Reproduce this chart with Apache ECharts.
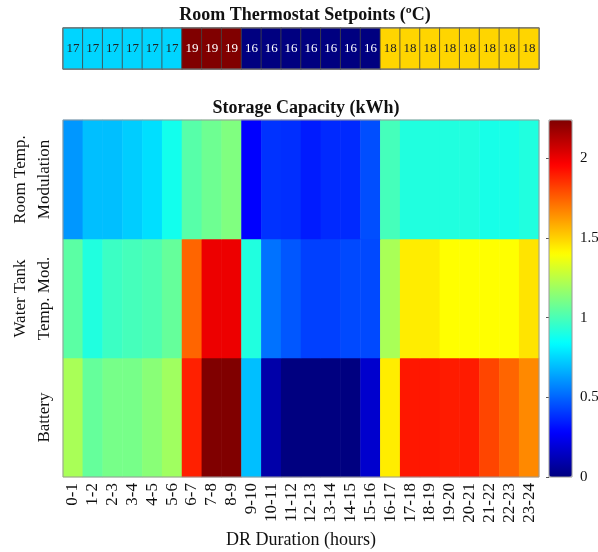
<!DOCTYPE html>
<html><head><meta charset="utf-8">
<script src="https://cdn.jsdelivr.net/npm/echarts@6/dist/echarts.min.js"></script>
<style>html,body{margin:0;padding:0;background:#fff}#c{width:598px;height:552px}</style>
</head><body><div id="c"></div>
<script>
const hours = ['0-1','1-2','2-3','3-4','4-5','5-6','6-7','7-8','8-9','9-10','10-11','11-12','12-13','13-14','14-15','15-16','16-17','17-18','18-19','19-20','20-21','21-22','22-23','23-24'];
const rowNames = ['Battery', 'Water Tank\nTemp. Mod.', 'Room Temp.\nModulation'];
const roomTempMod = [0.61,0.70,0.70,0.73,0.77,0.88,1.03,1.08,1.12,0.28,0.39,0.38,0.34,0.37,0.37,0.45,0.99,0.91,0.91,0.91,0.91,0.89,0.89,0.91];
const waterTankMod = [1.04,0.91,0.97,0.99,1.01,1.06,1.74,2.00,2.00,0.91,0.53,0.47,0.42,0.42,0.44,0.44,1.21,1.44,1.44,1.40,1.40,1.40,1.40,1.46];
const battery = [1.21,1.06,1.10,1.10,1.14,1.19,1.89,2.24,2.24,0.70,0.09,0.00,0.00,0.00,0.00,0.17,1.44,1.91,1.91,1.90,1.90,1.81,1.74,1.66];
const setpoints = [17,17,17,17,17,17,19,19,19,16,16,16,16,16,16,16,18,18,18,18,18,18,18,18];
const colorTicks = [0, 0.5, 1, 1.5, 2];
const capMin = 0, capMax = 2.24;

const jet = ['#000080','#0000ff','#0080ff','#00ffff','#80ff80','#ffff00','#ff8000','#ff0000','#800000'];
const serif = '"Liberation Serif", "Times New Roman", serif';

const rowsData = [battery, waterTankMod, roomTempMod];
const heatData = [];
rowsData.forEach((arr, r) => arr.forEach((v, c) => heatData.push([c, r, v])));
const spData = setpoints.map((v, i) => ({
  value: [i, 0, v],
  label: { color: (v === 16 || v === 19) ? '#ffffff' : '#222222' }
}));

const chart = echarts.init(document.getElementById('c'), null, { renderer: 'canvas' });
chart.setOption({
  animation: false,
  backgroundColor: '#ffffff',
  title: [
    { text: 'Room Thermostat Setpoints (ºC)', left: 300, textAlign: 'center', top: 1,
      textStyle: { fontFamily: serif, fontWeight: 'bold', fontSize: 18, color: '#111' } },
    { text: 'Storage Capacity (kWh)', left: 301, textAlign: 'center', top: 94,
      textStyle: { fontFamily: serif, fontWeight: 'bold', fontSize: 18, color: '#111' } }
  ],
  grid: [
    { left: 63, top: 120, width: 476, height: 357, outerBoundsMode: 'none', containLabel: false,
      show: true, borderColor: '#999', borderWidth: 1, backgroundColor: 'transparent', z: 5 },
    { left: 63, top: 28, width: 476, height: 41, outerBoundsMode: 'none', containLabel: false,
      show: true, borderColor: '#777', borderWidth: 1, backgroundColor: 'transparent', z: 5 },
    { left: 549, top: 120, width: 23, height: 357, outerBoundsMode: 'none', containLabel: false,
      show: true, borderColor: '#999', borderWidth: 1, backgroundColor: 'transparent', z: 6 }
  ],
  xAxis: [
    { type: 'category', gridIndex: 0, data: hours,
      name: 'DR Duration (hours)', nameLocation: 'middle', nameGap: 54,
      nameTextStyle: { fontFamily: serif, fontSize: 18, color: '#111' },
      axisLine: { show: false }, axisTick: { show: false }, splitLine: { show: false },
      axisLabel: { rotate: 90, fontFamily: serif, fontSize: 17, color: '#111', margin: 6, interval: 0 } },
    { type: 'category', gridIndex: 1, data: hours, show: false },
    { type: 'value', gridIndex: 2, show: false, min: 0, max: 1 }
  ],
  yAxis: [
    { type: 'category', gridIndex: 0, data: rowNames,
      axisLine: { show: false }, axisTick: { show: false }, splitLine: { show: false },
      axisLabel: { rotate: 90, fontFamily: serif, fontSize: 17, color: '#111', margin: 6, lineHeight: 24 } },
    { type: 'category', gridIndex: 1, data: [''], show: false },
    { type: 'value', gridIndex: 2, position: 'right', min: capMin, max: capMax, interval: 0.5,
      axisLine: { show: false }, splitLine: { show: false },
      axisTick: { show: true, inside: true, length: 3, lineStyle: { color: '#555' } },
      axisLabel: { fontFamily: serif, fontSize: 15, color: '#111', margin: 8, showMaxLabel: false,
        formatter: v => colorTicks.includes(v) ? String(v) : '' } }
  ],
  visualMap: [
    { type: 'continuous', seriesIndex: 0, min: capMin, max: capMax, calculable: false,
      orient: 'vertical', left: 549, top: 120, itemWidth: 23, itemHeight: 357,
      padding: 0, text: null, showLabel: false, hoverLink: false,
      inRange: { color: jet } },
    { type: 'continuous', seriesIndex: 1, min: 16, max: 19, show: false,
      inRange: { color: jet } }
  ],
  series: [
    { type: 'heatmap', xAxisIndex: 0, yAxisIndex: 0, data: heatData,
      itemStyle: { borderWidth: 0 }, emphasis: { disabled: true } },
    { type: 'heatmap', xAxisIndex: 1, yAxisIndex: 1, data: spData,
      label: { show: true, fontFamily: serif, fontSize: 13 },
      itemStyle: { borderColor: '#444', borderWidth: 0.8 }, emphasis: { disabled: true } }
  ]
});
</script>
</body></html>
